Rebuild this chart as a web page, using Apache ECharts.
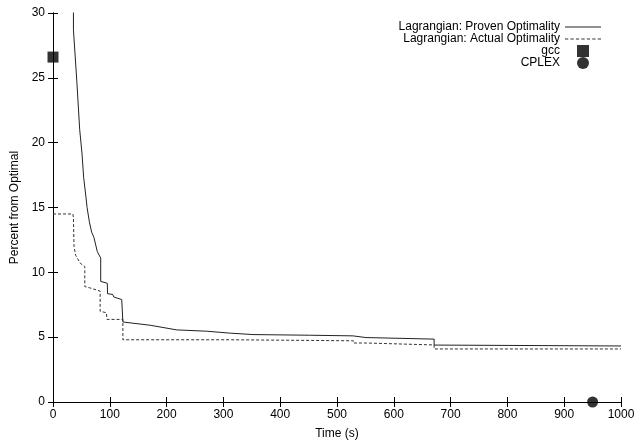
<!DOCTYPE html>
<html>
<head>
<meta charset="utf-8">
<script src="https://cdn.jsdelivr.net/npm/echarts@6/dist/echarts.min.js"></script>
<style>
  html, body { margin: 0; padding: 0; background: #fff; }
  #chart { width: 640px; height: 445px; }
</style>
</head>
<body>
<div id="chart"></div>
<script>
// values: [time (s), percent from optimal]
const provenOptimality = [
  [36, 32], [36, 28.7], [42, 24.7], [47, 21], [51, 19.2], [54, 17.3], [58, 15.8],
  [60, 15.0], [64, 13.9], [68, 13.1], [72, 12.7], [78, 11.6], [84, 11.1], [84, 9.3],
  [86, 9.16], [95.6, 9.16], [96, 8.35], [105, 8.3], [107, 8.1], [121, 7.9], [123, 7.85],
  [123, 6.17], [171, 5.92], [218, 5.56], [270, 5.46], [312, 5.31], [352, 5.2],
  [452, 5.15], [528, 5.1], [528, 4.97], [551, 4.97], [551, 4.85], [671, 4.85],
  [671, 4.39], [1000, 4.32]
]
const actualOptimality = [
  [0, 14.5], [35, 14.5], [36, 14.2], [37, 12.0], [40, 11.3], [48, 10.7], [56, 10.45],
  [56, 8.9], [65, 8.8], [83, 8.55], [83, 7.0], [94, 6.88], [95, 6.37], [123, 6.37],
  [123, 4.8], [312, 4.8], [312, 4.72], [529, 4.72], [529, 4.55], [551, 4.55],
  [551, 4.4], [671, 4.4], [671, 4.09], [1000, 4.09]
]
const gccPoint = [[0, 26.6]]
const cplexPoint = [[950, 0]]
const seriesNames = ['Lagrangian: Proven Optimality', 'Lagrangian: Actual Optimality', 'gcc', 'CPLEX']

const font = 'Liberation Sans, Arial, sans-serif'
const chart = echarts.init(document.getElementById('chart'))

// legend key shapes (gnuplot-like)
const solidKey = 'path://M0,0h36v1h-36z'
const dashedKey = 'path://M0,0h3v1h-3zM5,0h3v1h-3zM10,0h3v1h-3zM15,0h3v1h-3zM20,0h3v1h-3zM25,0h3v1h-3zM30,0h3v1h-3z'
const squareKey = 'path://M0,0h10v10h-10z'

const mirrorAxis = {
    min: 0,
    axisLine: { show: true, lineStyle: { color: '#000', width: 1 } },
    axisTick: { show: true, inside: true, length: 5, lineStyle: { color: '#000' } },
    axisLabel: { show: false },
    splitLine: { show: false }
}

const option = {
    animation: false,
    backgroundColor: '#fff',
    textStyle: { fontFamily: font },
    grid: { left: 53, right: 19, top: 13, bottom: 38 },
    legend: {
        orient: 'vertical',
        right: 34,
        top: 16,
        align: 'right',
        itemWidth: 36,
        itemHeight: 12,
        itemGap: 0,
        textStyle: { fontFamily: font, fontSize: 12, color: '#000' },
        data: [
            { name: seriesNames[0], icon: solidKey },
            { name: seriesNames[1], icon: dashedKey },
            { name: seriesNames[2], icon: squareKey },
            { name: seriesNames[3], icon: 'circle' }
        ]
    },
    xAxis: [
        {
            type: 'value',
            min: 0,
            max: 1000,
            interval: 100,
            name: 'Time (s)',
            nameLocation: 'middle',
            nameGap: 26,
            nameTextStyle: { fontFamily: font, fontSize: 12, color: '#000' },
            axisLine: { show: true, onZero: false, lineStyle: { color: '#000', width: 1 } },
            axisTick: { show: true, inside: true, length: 5, lineStyle: { color: '#000' } },
            axisLabel: { fontFamily: font, fontSize: 12, color: '#000', margin: 7, formatter: v => String(v) },
            splitLine: { show: false }
        },
        { ...mirrorAxis, type: 'value', position: 'top', max: 1000, interval: 100 }
    ],
    yAxis: [
        {
            type: 'value',
            min: 0,
            max: 30,
            interval: 5,
            name: 'Percent from Optimal',
            nameLocation: 'middle',
            nameGap: 30,
            nameTextStyle: { fontFamily: font, fontSize: 12, color: '#000' },
            axisLine: { show: true, onZero: false, lineStyle: { color: '#000', width: 1 } },
            axisTick: { show: true, inside: true, length: 5, lineStyle: { color: '#000' } },
            axisLabel: { fontFamily: font, fontSize: 12, color: '#000', margin: 8 },
            splitLine: { show: false }
        },
        { ...mirrorAxis, type: 'value', position: 'right', max: 30, interval: 5 }
    ],
    series: [
        {
            name: seriesNames[0],
            type: 'line',
            data: provenOptimality,
            symbol: 'none',
            clip: true,
            lineStyle: { color: '#222', width: 1 },
            itemStyle: { color: '#222' }
        },
        {
            name: seriesNames[1],
            type: 'line',
            data: actualOptimality,
            symbol: 'none',
            clip: true,
            lineStyle: { color: '#333', width: 1, type: [3, 2] },
            itemStyle: { color: '#333' }
        },
        {
            name: seriesNames[2],
            type: 'scatter',
            data: gccPoint,
            symbol: 'rect',
            symbolSize: 11,
            clip: false,
            itemStyle: { color: '#000' }
        },
        {
            name: seriesNames[3],
            type: 'scatter',
            data: cplexPoint,
            symbol: 'circle',
            symbolSize: 11,
            clip: false,
            itemStyle: { color: '#000' }
        }
    ]
}

chart.setOption(option)
</script>
</body>
</html>
